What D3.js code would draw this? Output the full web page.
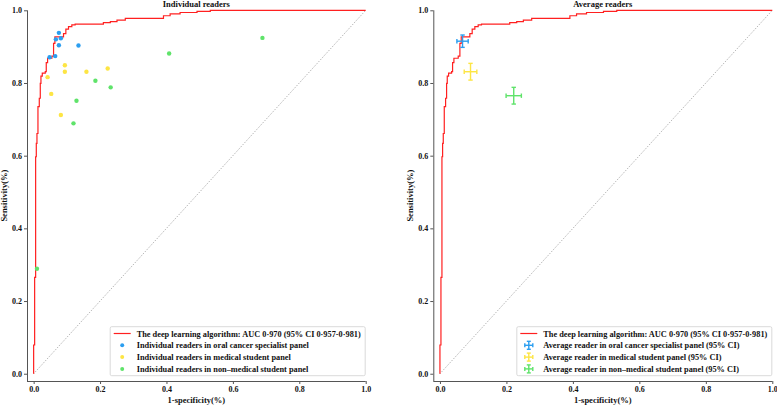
<!DOCTYPE html>
<html>
<head>
<meta charset="utf-8">
<script src="https://cdn.jsdelivr.net/npm/d3@7/dist/d3.min.js"></script>
<style>
  body { margin: 0; background: #fff; }
  svg text { font-family: "Liberation Serif", "Times New Roman", serif; font-weight: bold; fill: #111; }
</style>
</head>
<body>
<div id="canvas"></div>
<script>
const canvWidth = 777, canvHeight = 405;

// ROC curve of the deep learning algorithm (step corners)
const rocFpr = [0, 0.003, 0.006, 0.008, 0.010, 0.013, 0.017, 0.020, 0.022, 0.026, 0.035, 0.038, 0.042, 0.055, 0.060, 0.064, 0.070, 0.090, 0.097, 0.105, 0.115, 0.125, 0.146, 0.210, 0.231, 0.251, 0.276, 0.311, 0.391, 0.411, 0.441, 0.492, 0.532, 0.847, 1.0];
const rocTpr = [0, 0.079, 0.265, 0.597, 0.634, 0.661, 0.735, 0.758, 0.799, 0.819, 0.827, 0.831, 0.856, 0.868, 0.874, 0.909, 0.927, 0.927, 0.936, 0.948, 0.955, 0.960, 0.962, 0.962, 0.966, 0.969, 0.973, 0.978, 0.978, 0.985, 0.990, 0.994, 0.997, 1.0, 1.0];

// individual readers
const specialistFpr = [0.048, 0.065, 0.067, 0.076, 0.082, 0.076, 0.135];
const specialistTpr = [0.871, 0.874, 0.920, 0.938, 0.923, 0.904, 0.903];
const medicalFpr = [0.042, 0.053, 0.094, 0.094, 0.082, 0.159, 0.223];
const medicalTpr = [0.816, 0.770, 0.849, 0.831, 0.712, 0.831, 0.840];
const nonMedicalFpr = [0.186, 0.232, 0.129, 0.120, 0.408, 0.689, 0.010];
const nonMedicalTpr = [0.806, 0.788, 0.751, 0.689, 0.881, 0.924, 0.289];

// average readers with 95% CI half-widths
const avgGroups = ["oral cancer specialist", "medical student", "non\u2013medical student"];
const avgFpr = [0.068, 0.092, 0.222];
const avgTpr = [0.915, 0.831, 0.765];
const avgFprErr = [0.017, 0.019, 0.023];
const avgTprErr = [0.017, 0.023, 0.023];

const groupColors = ["#2b9ef0", "#fde544", "#5fe36a"];
const rocLabel = "The deep learning algorithm: AUC 0\u00b7970 (95% CI 0\u00b7957-0\u00b7981)";
const ticks = [0, 0.2, 0.4, 0.6, 0.8, 1.0];

const svg = d3.select("#canvas").append("svg")
    .attr("width", canvWidth)
    .attr("height", canvHeight);

function drawPanel(left, right, title, kind) {
    var x = d3.scaleLinear().domain([-0.02, 1.0]).range([left, right]);
    var y = d3.scaleLinear().domain([-0.02, 1.0]).range([381, 10.3]);
    var g = svg.append("g");

    // axes (left and bottom spines only)
    var xAxis = g.append("g")
        .attr("transform", "translate(0,381)")
        .call(d3.axisBottom(x).tickValues(ticks).tickFormat(d3.format(".1f")).tickSize(3).tickPadding(2));
    var yAxis = g.append("g")
        .attr("transform", "translate(" + left + ",0)")
        .call(d3.axisLeft(y).tickValues(ticks).tickFormat(d3.format(".1f")).tickSize(3).tickPadding(2));
    [xAxis, yAxis].forEach(function (a) {
        a.select(".domain").attr("stroke", "#555").attr("stroke-width", 1)
            .attr("d", a === xAxis ? "M" + left + ",0.5H" + right : "M0.5,381V" + y(1.0));
        a.selectAll(".tick line").attr("stroke", "#555");
        a.selectAll(".tick text").style("font-size", "8px").attr("fill", "#111");
    });

    // diagonal chance line
    g.append("line")
        .attr("x1", x(0)).attr("y1", y(0))
        .attr("x2", x(1)).attr("y2", y(1))
        .attr("stroke", "#888")
        .attr("stroke-width", 0.8)
        .attr("stroke-dasharray", "1,1.5");

    // roc curve
    var line = d3.line()
        .x(function (d) { return x(d[0]); })
        .y(function (d) { return y(d[1]); })
        .curve(d3.curveStepBefore);
    g.append("path")
        .datum(d3.zip(rocFpr, rocTpr))
        .attr("d", line)
        .attr("fill", "none")
        .attr("stroke", "#ff2020")
        .attr("stroke-width", 1.2);

    if (kind === "individual") {
        var sets = [[specialistFpr, specialistTpr], [medicalFpr, medicalTpr], [nonMedicalFpr, nonMedicalTpr]];
        sets.forEach(function (s, i) {
            g.selectAll(".pt" + i)
                .data(d3.zip(s[0], s[1]))
                .enter().append("circle")
                .attr("cx", function (d) { return x(d[0]); })
                .attr("cy", function (d) { return y(d[1]); })
                .attr("r", 2.2)
                .attr("fill", groupColors[i]);
        });
    } else {
        avgFpr.forEach(function (f, i) {
            var cx = x(f), cy = y(avgTpr[i]);
            var x0 = x(f - avgFprErr[i]), x1 = x(f + avgFprErr[i]);
            var y0 = y(avgTpr[i] - avgTprErr[i]), y1 = y(avgTpr[i] + avgTprErr[i]);
            var c = groupColors[i], cap = 2.2;
            var eb = g.append("g").attr("stroke", c).attr("stroke-width", 1.4);
            eb.append("line").attr("x1", x0).attr("x2", x1).attr("y1", cy).attr("y2", cy);
            eb.append("line").attr("x1", cx).attr("x2", cx).attr("y1", y0).attr("y2", y1);
            eb.append("line").attr("x1", x0).attr("x2", x0).attr("y1", cy - cap).attr("y2", cy + cap);
            eb.append("line").attr("x1", x1).attr("x2", x1).attr("y1", cy - cap).attr("y2", cy + cap);
            eb.append("line").attr("x1", cx - cap).attr("x2", cx + cap).attr("y1", y0).attr("y2", y0);
            eb.append("line").attr("x1", cx - cap).attr("x2", cx + cap).attr("y1", y1).attr("y2", y1);
        });
    }

    // titles
    var mid = (left + right) / 2;
    g.append("text").attr("x", mid).attr("y", 7).attr("text-anchor", "middle")
        .style("font-size", "8.5px").text(title);
    g.append("text").attr("x", mid).attr("y", 403).attr("text-anchor", "middle")
        .style("font-size", "8.5px").text("1-specificity(%)");
    g.append("text")
        .attr("transform", "translate(" + (left - 20) + "," + y(0.49) + ") rotate(-90)")
        .attr("text-anchor", "middle")
        .style("font-size", "8.5px").text("Sensitivity(%)");

    // legend
    var labels = kind === "individual"
        ? avgGroups.map(function (n) { return "Individual readers in " + n + " panel"; })
        : avgGroups.map(function (n) { return "Average reader in " + n + " panel (95% CI)"; });
    var lx = right - 255.5, ly = 326.7;
    var leg = g.append("g");
    leg.append("rect").attr("x", lx).attr("y", ly).attr("width", 255).attr("height", 49)
        .attr("rx", 1.5).attr("fill", "#fff").attr("stroke", "#d0d0d0").attr("stroke-width", 0.8);
    var rows = [rocLabel].concat(labels);
    rows.forEach(function (t, i) {
        var ry = ly + 6.8 + i * 11.8;
        var hx = lx + 12;
        if (i === 0) {
            leg.append("line").attr("x1", hx - 8.5).attr("x2", hx + 8.5).attr("y1", ry).attr("y2", ry)
                .attr("stroke", "#ff2020").attr("stroke-width", 1.2);
        } else if (kind === "individual") {
            leg.append("circle").attr("cx", hx).attr("cy", ry).attr("r", 2).attr("fill", groupColors[i - 1]);
        } else {
            var h = leg.append("g").attr("stroke", groupColors[i - 1]).attr("stroke-width", 1.4);
            h.append("line").attr("x1", hx - 4).attr("x2", hx + 4).attr("y1", ry).attr("y2", ry);
            h.append("line").attr("x1", hx).attr("x2", hx).attr("y1", ry - 4).attr("y2", ry + 4);
            h.append("line").attr("x1", hx - 4).attr("x2", hx - 4).attr("y1", ry - 2).attr("y2", ry + 2);
            h.append("line").attr("x1", hx + 4).attr("x2", hx + 4).attr("y1", ry - 2).attr("y2", ry + 2);
            h.append("line").attr("x1", hx - 2).attr("x2", hx + 2).attr("y1", ry - 4).attr("y2", ry - 4);
            h.append("line").attr("x1", hx - 2).attr("x2", hx + 2).attr("y1", ry + 4).attr("y2", ry + 4);
        }
        leg.append("text").attr("x", lx + 26.5).attr("y", ry + 3)
            .style("font-size", "8.3px").text(t);
    });
}

drawPanel(27, 365.7, "Individual readers", "individual");
drawPanel(433.3, 772.3, "Average readers", "average");
</script>
</body>
</html>
